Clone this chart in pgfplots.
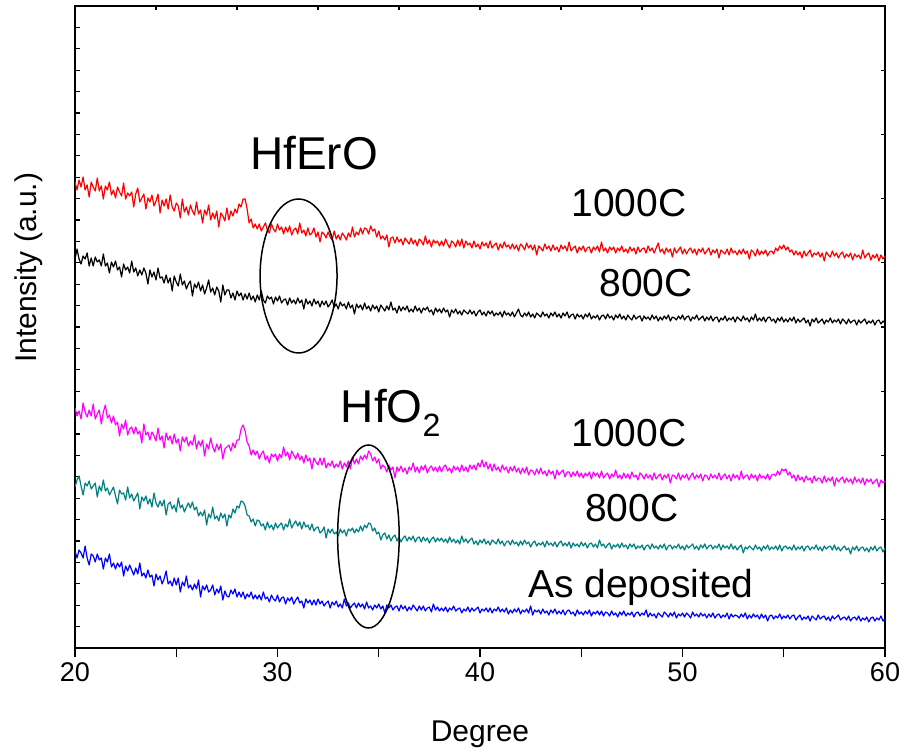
\documentclass[border=0pt]{standalone}
\usepackage{pgfplots}
\pgfplotsset{compat=1.18}
\usepackage{pgfplotstable}
\usepackage{fontspec}
\setmainfont{Liberation Sans}
\definecolor{xteal}{RGB}{0,128,128}
\definecolor{xmag}{RGB}{255,0,255}
\definecolor{xred}{RGB}{255,0,0}
\definecolor{xblue}{RGB}{0,0,255}

\pgfplotstableread{
x r k m t b
20.0 466 389 240 161 97
20.1 458 399 232 168 90
20.2 468 389 237 172 98
20.3 461 384 229 162 95
20.4 471 392 245 153 90
20.5 458 389 236 165 102
20.6 463 395 231 162 90
20.7 451 382 238 167 83
20.8 466 390 232 159 94
20.9 461 382 244 162 92
21.0 457 391 229 165 86
21.1 470 386 234 151 94
21.2 457 388 238 162 88
21.3 462 382 224 157 90
21.4 449 394 236 168 79
21.5 462 382 243 157 90
21.6 458 385 230 160 86
21.7 466 375 233 153 94
21.8 453 386 225 157 81
21.9 458 381 232 161 85
22.0 450 387 223 152 79
22.1 461 378 226 144 85
22.2 456 381 212 158 81
22.3 452 371 224 154 86
22.4 465 384 219 155 72
22.5 449 378 228 148 82
22.6 455 381 213 161 77
22.7 452 375 219 150 83
22.8 456 387 221 154 78
22.9 441 376 214 147 73
23.0 454 380 221 151 80
23.1 460 372 214 155 74
23.2 446 378 217 139 85
23.3 450 373 205 151 72
23.4 454 380 224 147 75
23.5 439 375 213 152 70
23.6 450 364 216 144 78
23.7 446 378 208 149 71
23.8 453 371 216 141 73
23.9 442 376 212 155 62
24.0 447 368 207 145 74
24.1 454 380 220 141 68
24.2 435 370 208 147 72
24.3 448 371 212 142 64
24.4 442 365 200 148 69
24.5 449 373 215 133 77
24.6 439 365 208 144 64
24.7 453 370 212 146 67
24.8 441 357 204 139 62
24.9 437 372 214 143 70
25.0 445 366 205 136 63
25.1 442 362 209 150 70
25.2 430 374 197 140 56
25.3 449 363 211 143 66
25.4 436 367 206 136 62
25.5 441 359 211 141 72
25.6 433 364 202 145 60
25.7 443 367 207 140 63
25.8 437 352 203 146 58
25.9 433 364 213 138 64
26.0 446 360 199 141 59
26.1 434 366 207 132 68
26.2 438 357 202 136 51
26.3 425 363 208 132 62
26.4 438 354 192 138 58
26.5 433 360 204 123 63
26.6 443 368 199 134 56
26.7 428 356 210 130 58
26.8 435 360 201 141 63
26.9 429 353 196 129 53
27.0 437 361 204 132 59
27.1 421 357 198 127 55
27.2 435 346 204 135 62
27.3 432 363 189 130 48
27.4 427 353 199 134 57
27.5 440 358 201 122 52
27.6 428 358 203 133 51
27.7 437 350 197 130 58
27.8 432 355 205 139 54
27.9 439 348 200 135 59
28.0 435 357 208 142 51
28.1 444 352 208 140 56
28.2 441 355 219 147 51
28.3 449 348 223 146 56
28.4 449 354 217 142 49
28.5 439 349 206 133 54
28.6 425 355 202 132 51
28.7 429 348 193 126 56
28.8 420 352 198 129 49
28.9 424 346 193 122 53
29.0 419 353 197 128 49
29.1 424 348 189 127 53
29.2 417 357 194 122 48
29.3 421 348 197 124 56
29.4 425 345 188 118 49
29.5 418 352 192 126 51
29.6 415 349 185 120 46
29.7 424 351 194 123 53
29.8 419 344 191 118 49
29.9 416 351 194 125 47
30.0 424 347 187 120 53
30.1 418 352 194 123 46
30.2 421 345 190 125 50
30.3 414 348 201 118 51
30.4 421 349 192 124 44
30.5 416 343 196 121 50
30.6 422 350 188 129 47
30.7 413 345 197 120 51
30.8 418 348 193 124 44
30.9 420 344 189 127 48
31.0 414 350 195 122 51
31.1 425 345 188 126 45
31.2 415 348 192 119 47
31.3 418 339 185 126 40
31.4 412 349 193 121 49
31.5 420 344 187 123 45
31.6 413 347 190 118 48
31.7 415 342 179 124 43
31.8 420 349 190 117 48
31.9 411 344 186 120 43
32.0 416 347 183 121 49
32.1 406 341 190 115 44
32.2 416 347 183 117 47
32.3 414 343 190 121 42
32.4 410 347 180 110 45
32.5 416 341 185 119 47
32.6 411 344 182 115 40
32.7 408 348 187 119 46
32.8 417 341 180 114 43
32.9 409 344 184 116 47
33.0 413 339 181 112 41
33.1 408 346 187 119 44
33.2 415 342 179 115 40
33.3 412 344 185 118 49
33.4 408 339 181 112 42
33.5 415 346 187 119 45
33.6 411 340 179 117 40
33.7 421 343 191 120 43
33.8 411 334 184 115 45
33.9 416 344 189 119 40
34.0 413 340 184 116 45
34.1 420 343 192 122 41
34.2 414 338 188 117 44
34.3 420 345 193 123 39
34.4 419 339 189 120 46
34.5 414 342 197 125 40
34.6 422 337 194 124 42
34.7 417 343 187 117 38
34.8 419 339 191 120 43
34.9 411 342 185 114 40
35.0 417 336 189 116 44
35.1 409 343 179 108 39
35.2 412 340 183 113 42
35.3 408 337 181 115 35
35.4 413 342 176 109 43
35.5 401 338 183 113 40
35.6 410 346 178 107 43
35.7 411 338 181 111 38
35.8 405 340 170 113 41
35.9 411 335 181 107 42
36.0 406 342 177 111 37
36.1 409 337 182 106 43
36.2 403 341 176 110 39
36.3 410 338 180 112 42
36.4 407 342 174 107 37
36.5 404 336 181 111 41
36.6 410 339 178 108 38
36.7 404 336 185 112 43
36.8 408 342 176 106 40
36.9 402 337 181 110 37
37.0 409 340 175 111 42
37.1 407 335 182 106 38
37.2 403 340 178 111 42
37.3 412 338 183 107 37
37.4 404 341 175 110 40
37.5 408 336 180 105 41
37.6 401 338 182 109 36
37.7 408 333 177 111 44
37.8 405 340 181 106 38
37.9 407 336 176 110 41
38.0 402 339 182 107 37
38.1 407 335 176 110 40
38.2 402 340 181 106 37
38.3 409 336 183 109 41
38.4 404 338 177 105 36
38.5 400 331 180 111 40
38.6 407 338 175 106 38
38.7 405 335 182 109 42
38.8 401 339 178 105 37
38.9 408 334 181 108 39
39.0 402 337 176 104 40
39.1 409 333 183 112 35
39.2 400 338 177 106 39
39.3 407 336 181 109 37
39.4 403 334 176 105 41
39.5 405 338 183 108 36
39.6 400 334 179 110 40
39.7 407 337 183 104 37
39.8 401 332 178 107 39
39.9 404 336 185 103 41
40.0 399 338 181 108 35
40.1 406 333 188 105 39
40.2 402 336 181 109 37
40.3 405 332 186 104 40
40.4 400 337 179 107 36
40.5 407 334 184 103 40
40.6 400 337 177 108 35
40.7 403 332 184 106 39
40.8 405 335 178 104 37
40.9 398 333 181 109 41
41.0 404 336 176 104 36
41.1 400 331 183 107 39
41.2 406 337 178 102 36
41.3 401 333 181 106 40
41.4 403 335 175 107 34
41.5 399 332 181 103 38
41.6 404 336 177 108 35
41.7 399 331 182 104 39
41.8 403 335 176 106 36
41.9 397 339 180 102 40
42.0 404 333 174 107 34
42.1 402 331 180 103 38
42.2 398 335 175 108 36
42.3 405 332 181 104 39
42.4 400 336 173 106 35
42.5 403 331 178 101 42
42.6 398 334 177 105 33
42.7 403 330 173 107 38
42.8 393 335 179 102 36
42.9 402 333 174 105 38
43.0 400 331 180 103 34
43.1 397 336 174 106 39
43.2 404 332 177 101 35
43.3 399 334 172 107 37
43.4 402 330 178 103 33
43.5 397 335 174 105 38
43.6 403 332 177 102 35
43.7 398 336 169 106 39
43.8 401 331 178 101 34
43.9 396 334 173 105 37
44.0 403 330 176 107 34
44.1 399 335 178 102 38
44.2 402 332 171 105 33
44.3 397 336 176 102 37
44.4 406 330 176 106 38
44.5 397 333 171 100 34
44.6 400 334 176 105 36
44.7 402 329 172 102 32
44.8 395 334 177 104 38
44.9 401 331 171 101 34
45.0 398 333 175 106 36
45.1 402 329 170 102 33
45.2 396 334 175 105 37
45.3 400 331 172 100 34
45.4 401 335 176 104 38
45.5 395 329 169 105 32
45.6 401 332 176 101 36
45.7 398 330 172 104 34
45.8 402 333 175 100 37
45.9 396 328 170 108 33
46.0 406 332 177 102 37
46.1 397 333 170 104 32
46.2 400 329 173 100 36
46.3 395 334 175 103 35
46.4 401 330 169 105 32
46.5 398 332 174 99 37
46.6 401 328 171 103 33
46.7 395 333 178 101 35
46.8 400 330 170 104 31
46.9 397 334 173 100 36
47.0 402 329 169 105 33
47.1 396 332 175 101 37
47.2 399 328 170 103 32
47.3 395 333 174 99 35
47.4 401 330 169 104 33
47.5 397 328 176 101 36
47.6 400 333 171 104 31
47.7 394 329 173 99 35
47.8 401 331 168 102 36
47.9 396 332 175 100 32
48.0 399 327 173 103 35
48.1 400 332 169 98 33
48.2 395 329 174 102 38
48.3 402 331 170 103 31
48.4 397 328 173 99 35
48.5 400 333 168 104 32
48.6 395 329 175 100 34
48.7 400 332 169 102 30
48.8 405 327 172 99 35
48.9 396 331 174 103 33
49.0 399 328 168 100 31
49.1 394 332 173 104 36
49.2 400 329 170 98 34
49.3 396 333 174 102 31
49.4 399 327 165 103 35
49.5 391 331 173 99 32
49.6 400 330 172 102 36
49.7 395 328 169 100 30
49.8 398 332 175 104 34
49.9 401 329 168 99 32
50.0 394 333 173 102 35
50.1 399 328 170 98 31
50.2 394 331 174 103 35
50.3 398 332 168 100 33
50.4 400 327 172 102 30
50.5 395 331 175 104 36
50.6 399 329 169 99 32
50.7 393 333 173 102 34
50.8 399 328 170 98 31
50.9 396 330 174 103 35
51.0 400 332 167 100 32
51.1 394 327 173 104 34
51.2 397 331 172 99 30
51.3 400 328 168 102 34
51.4 393 332 174 103 31
51.5 398 327 170 99 35
51.6 395 330 173 102 30
51.7 399 331 169 100 33
51.8 390 326 175 104 34
51.9 398 330 168 98 30
52.0 396 328 172 103 33
52.1 394 332 174 100 31
52.2 399 327 169 102 35
52.3 393 330 173 99 29
52.4 400 328 167 104 34
52.5 395 331 174 99 31
52.6 397 326 170 102 33
52.7 393 331 173 98 32
52.8 398 329 168 101 30
52.9 394 327 177 103 34
53.0 399 332 169 95 31
53.1 394 328 172 101 35
53.2 397 330 173 99 29
53.3 389 326 168 102 33
53.4 398 331 174 100 30
53.5 396 328 170 98 34
53.6 392 334 173 103 31
53.7 399 327 167 99 33
53.8 393 330 174 101 29
53.9 397 327 170 97 34
54.0 394 331 172 102 30
54.1 398 326 169 99 33
54.2 392 330 174 103 27
54.3 396 331 168 98 32
54.4 397 327 173 101 33
54.5 394 329 174 99 29
54.6 400 325 172 102 32
54.7 397 330 177 98 30
54.8 402 327 173 103 34
54.9 399 331 179 97 29
55.0 403 326 177 101 32
55.1 398 329 179 102 30
55.2 401 326 173 99 33
55.3 396 330 176 101 29
55.4 398 327 170 98 32
55.5 393 331 173 103 33
55.6 397 325 167 98 28
55.7 393 329 173 101 31
55.8 396 326 168 99 33
55.9 390 328 171 102 28
56.0 397 330 166 97 31
56.1 392 325 172 101 29
56.2 395 328 168 102 32
56.3 398 322 170 98 27
56.4 391 329 165 101 32
56.5 395 326 172 99 30
56.6 393 330 167 103 28
56.7 396 325 170 98 33
56.8 391 327 169 101 29
56.9 395 329 165 97 31
57.0 387 324 172 102 32
57.1 396 328 166 99 28
57.2 393 326 170 101 31
57.3 391 330 167 102 27
57.4 397 325 171 98 32
57.5 392 328 162 103 29
57.6 395 326 170 98 31
57.7 390 329 166 101 33
57.8 394 324 169 97 28
57.9 396 329 171 100 30
58.0 390 327 165 102 31
58.1 394 324 170 98 28
58.2 391 329 166 100 32
58.3 395 325 169 94 27
58.4 388 327 164 101 30
58.5 394 328 171 98 31
58.6 391 323 166 102 28
58.7 393 328 169 97 32
58.8 389 325 165 100 27
58.9 398 327 170 101 30
59.0 390 329 163 97 28
59.1 393 324 169 100 31
59.2 395 327 166 96 26
59.3 388 325 169 101 30
59.4 393 328 164 98 31
59.5 390 323 167 102 27
59.6 394 327 169 97 30
59.7 387 328 161 100 28
59.8 393 324 168 101 32
59.9 389 327 165 96 27
60.0 392 325 167 100 29
}\xrd

\pgfplotsset{
  basebox/.style={
    at={(75pt,101pt)}, anchor=south west,
    scale only axis, width=810pt, height=642pt,
    xmin=20, xmax=60, ymin=0, ymax=642,
    axis line style={line width=1.6pt},
    every tick/.style={black, line width=1.3pt},
  }
}

\begin{document}
\begin{tikzpicture}[x=1pt,y=1pt]
% top and right inner ticks
\begin{axis}[basebox,
  xtick={20,24,...,60}, ytick={0,64.2,...,643},
  tick pos=right, tick align=inside,
  major tick length=4pt,
  xticklabels={}, yticklabels={}]
\end{axis}
% left inner ticks
\begin{axis}[basebox,
  xtick=\empty, ytick={0,21.4,...,643},
  ytick pos=left, tick align=inside,
  major tick length=5pt,
  yticklabels={}]
\end{axis}
% main axis
\begin{axis}[basebox,
  xtick={20,30,40,50,60}, minor xtick={25,35,45,55},
  ytick=\empty,
  xtick pos=left, xtick align=outside,
  major tick length=9pt, minor tick length=9pt,
  /pgf/number format/assume math mode=true,
  xticklabel style={font=\fontsize{27}{30}\selectfont, yshift=-2pt},
  xlabel={Degree},
  xlabel style={font=\fontsize{30}{34}\selectfont, at={(axis description cs:0.5,-0.145)}, anchor=base},
  ylabel={Intensity (a.u.)},
  ylabel style={font=\fontsize{30}{34}\selectfont, at={(axis description cs:-0.047,0.592)}, anchor=base},
  clip=true]
\addplot[xred, line width=1.2pt, line join=round] table[x=x,y=r]{\xrd};
\addplot[black, line width=1.2pt, line join=round] table[x=x,y=k]{\xrd};
\addplot[xmag, line width=1.2pt, line join=round] table[x=x,y=m]{\xrd};
\addplot[xteal, line width=1.2pt, line join=round] table[x=x,y=t]{\xrd};
\addplot[xblue, line width=1.2pt, line join=round] table[x=x,y=b]{\xrd};
\draw[line width=1.5pt] (axis cs:31.04,372) ellipse [x radius=1.90, y radius=77];
\draw[line width=1.5pt] (axis cs:34.49,111.5) ellipse [x radius=1.52, y radius=91.5];
\node[anchor=base, font=\fontsize{46}{50}\selectfont] at (axis cs:31.8,478) {HfErO};
\node[anchor=base, font=\fontsize{46}{50}\selectfont] at (axis cs:35.6,225) {HfO\textsubscript{2}};
\node[anchor=base, font=\fontsize{39}{44}\selectfont] at (axis cs:47.36,431) {1000C};
\node[anchor=base, font=\fontsize{39}{44}\selectfont] at (axis cs:48.2,351) {800C};
\node[anchor=base, font=\fontsize{39}{44}\selectfont] at (axis cs:47.36,201) {1000C};
\node[anchor=base, font=\fontsize{39}{44}\selectfont] at (axis cs:47.5,126) {800C};
\node[anchor=base, font=\fontsize{39}{44}\selectfont] at (axis cs:47.95,50) {As deposited};
\end{axis}
\pgfresetboundingbox
\path[use as bounding box] (0,0) rectangle (902,749);
\end{tikzpicture}
\end{document}
